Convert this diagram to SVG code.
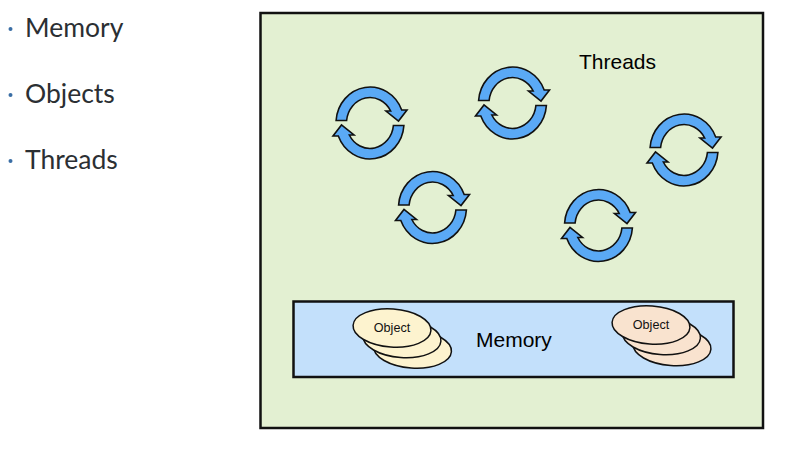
<svg xmlns="http://www.w3.org/2000/svg" width="800" height="452" viewBox="0 0 800 452">
<style>
.bullet{font-family:"Lato","Open Sans",sans-serif;font-size:26.5px;fill:#2b2f33}
.dot{fill:#3a6ea5}
.label{font-family:"Liberation Sans",Arial,sans-serif;font-size:21px;fill:#000}
.obj{font-family:"Liberation Sans",Arial,sans-serif;font-size:12.6px;fill:#111;text-anchor:middle}
.arrow{fill:#5aa9f5;stroke:#111;stroke-width:1.6;stroke-linejoin:miter}
.panel{stroke:#111;stroke-width:2.5}
.yellow{fill:#fdf3cf;stroke:#111;stroke-width:1.5}
.peach{fill:#f9e3cf;stroke:#111;stroke-width:1.5}
</style>
<defs>
<g id="cycle">
<path id="half" class="arrow" d="M-33.9,-2.5 A34,36 0 0 1 31.7,-13 L37,-13 L28.5,-2 L16,-12 L20.7,-12 A23.5,25.5 0 0 0 -23.4,-2.5 Z"/>
<use href="#half" transform="rotate(180)"/>
</g>
</defs>
<rect width="800" height="452" fill="#fff"/>
<g id="bullets">
<circle class="dot" cx="10.5" cy="29" r="2"/><text class="bullet" x="25" y="37">Memory</text>
<circle class="dot" cx="10.5" cy="95" r="2"/><text class="bullet" x="25" y="103">Objects</text>
<circle class="dot" cx="10.5" cy="161" r="2"/><text class="bullet" x="25" y="169">Threads</text>
</g>
<g id="threads-panel">
<rect class="panel" x="260.5" y="13" width="502.5" height="415" fill="#e3f0d2"/>
<text class="label" x="579" y="69">Threads</text>
</g>
<g id="thread-1"><use href="#cycle" transform="translate(370,123)"/></g>
<g id="thread-2"><use href="#cycle" transform="translate(512.5,103)"/></g>
<g id="thread-3"><use href="#cycle" transform="translate(432.5,207.5)"/></g>
<g id="thread-4"><use href="#cycle" transform="translate(598.5,225.5)"/></g>
<g id="thread-5"><use href="#cycle" transform="translate(684,150)"/></g>
<g id="memory-panel">
<rect class="panel" x="293.5" y="301.5" width="440" height="75.5" fill="#c3e0fb"/>
<text class="label" x="476" y="347">Memory</text>
</g>
<g id="objects-left">
<ellipse class="yellow" cx="412.5" cy="349" rx="39" ry="19" transform="rotate(4 412.5 349)"/>
<ellipse class="yellow" cx="402" cy="338.5" rx="39" ry="19" transform="rotate(4 402 338.5)"/>
<ellipse class="yellow" cx="392" cy="328" rx="39" ry="19" transform="rotate(4 392 328)"/>
<text class="obj" x="392" y="332">Object</text>
</g>
<g id="objects-right">
<ellipse class="peach" cx="672" cy="346.5" rx="39" ry="19" transform="rotate(4 672 346.5)"/>
<ellipse class="peach" cx="661.5" cy="335.5" rx="39" ry="19" transform="rotate(4 661.5 335.5)"/>
<ellipse class="peach" cx="651" cy="325" rx="39" ry="19" transform="rotate(4 651 325)"/>
<text class="obj" x="651" y="329">Object</text>
</g>
</svg>
